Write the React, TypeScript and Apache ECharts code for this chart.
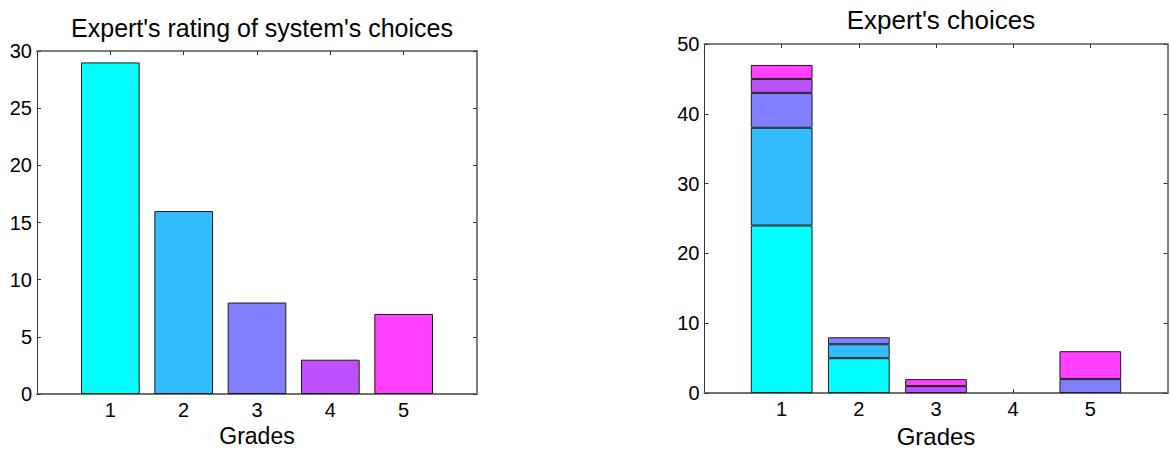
import React, { useEffect, useRef } from "react";
import * as echarts from "echarts";

const grades = [1, 2, 3, 4, 5];
const axisSlots = ["0", "1", "2", "3", "4", "5", "6"];
const ratingCounts = [29, 16, 8, 3, 7];
const gradeColors = ["#00FFFF", "#33BBFF", "#8080FF", "#BF50FF", "#FF40FF"];

// Expert's choices, stacked by system grade (bottom to top)
const choiceSeg1 = [24, 5, 0, 0, 0];
const choiceSeg2 = [14, 2, 0, 0, 0];
const choiceSeg3 = [5, 1, 0, 0, 2];
const choiceSeg4 = [2, 0, 1, 0, 0];
const choiceSeg5 = [2, 0, 1, 0, 4];
const choiceSegments = [choiceSeg1, choiceSeg2, choiceSeg3, choiceSeg4, choiceSeg5];

const leftTitle = "Expert's rating of system's choices";
const rightTitle = "Expert's choices";
const xName = "Grades";

const FONT = "'Liberation Sans', Arial, Helvetica, sans-serif";

const isGradeSlot = (idx: number) => grades.includes(Number(axisSlots[idx]));

export default function App() {
  const ref = useRef<HTMLDivElement>(null);

  useEffect(() => {
    if (!ref.current) return;
    const chart = echarts.init(ref.current, undefined, { renderer: "svg" });

    const g1 = { left: 37, top: 51, width: 440, height: 343 };
    const g2 = { left: 704.5, top: 44, width: 463, height: 357 };

    const frameColor = "#808080";
    const tickStyle = { show: true, inside: true, length: 4, lineStyle: { color: "#333", width: 1 } };

    const xBottom = (gi: number, gap: number, nameSize: number) => ({
      type: "category",
      gridIndex: gi,
      data: axisSlots,
      boundaryGap: false,
      position: "bottom",
      axisLine: { show: true, onZero: false, lineStyle: { color: "#707070", width: 2 } },
      axisTick: { ...tickStyle, interval: (idx: number) => isGradeSlot(idx) },
      axisLabel: {
        show: true,
        interval: (idx: number) => isGradeSlot(idx),
        color: "#000",
        fontSize: 20,
        fontFamily: FONT,
        margin: 6,
      },
      splitLine: { show: false },
      name: xName,
      nameLocation: "middle",
      nameGap: gap,
      nameTextStyle: { color: "#000", fontSize: nameSize, fontFamily: FONT },
    });
    const xTop = (gi: number) => ({
      type: "category",
      gridIndex: gi,
      data: axisSlots,
      boundaryGap: false,
      position: "top",
      axisLine: { show: true, onZero: false, lineStyle: { color: frameColor, width: 2 } },
      axisTick: { ...tickStyle, interval: (idx: number) => isGradeSlot(idx) },
      axisLabel: { show: false },
      splitLine: { show: false },
    });
    const yLeft = (gi: number, max: number, interval: number) => ({
      type: "value",
      gridIndex: gi,
      min: 0,
      max,
      interval,
      position: "left",
      axisLine: { show: true, onZero: false, lineStyle: { color: "#333", width: 1 } },
      axisTick: tickStyle,
      axisLabel: { show: true, color: "#000", fontSize: 20, fontFamily: FONT, margin: 5 },
      splitLine: { show: false },
    });
    const yRight = (gi: number, max: number, interval: number) => ({
      type: "value",
      gridIndex: gi,
      min: 0,
      max,
      interval,
      position: "right",
      axisLine: { show: true, onZero: false, lineStyle: { color: frameColor, width: 2 } },
      axisTick: tickStyle,
      axisLabel: { show: false },
      splitLine: { show: false },
    });

    const barBorder = { borderColor: "#1a1a1a", borderWidth: 1 };

    const slotData = (values: number[]) =>
      axisSlots.map((s) => {
        const gi = grades.indexOf(Number(s));
        if (gi < 0 || values[gi] === 0) return "-";
        return values[gi];
      });

    const option: any = {
      animation: false,
      backgroundColor: "#fff",
      title: [
        {
          text: leftTitle,
          left: g1.left + g1.width / 2,
          top: 10,
          textAlign: "center",
          textStyle: { color: "#000", fontSize: 25, fontWeight: "normal", fontFamily: FONT },
        },
        {
          text: rightTitle,
          left: g2.left + g2.width / 2,
          top: 2,
          textAlign: "center",
          textStyle: { color: "#000", fontSize: 26, fontWeight: "normal", fontFamily: FONT },
        },
      ],
      grid: [
        { ...g1, containLabel: false },
        { ...g2, containLabel: false },
      ],
      xAxis: [xBottom(0, 26, 23), xTop(0), xBottom(1, 27, 24), xTop(1)],
      yAxis: [yLeft(0, 30, 5), yRight(0, 30, 5), yLeft(1, 50, 10), yRight(1, 50, 10)],
      series: [
        {
          type: "bar",
          xAxisIndex: 0,
          yAxisIndex: 0,
          barWidth: (g1.width / 6) * 0.8,
          itemStyle: barBorder,
          data: axisSlots.map((s) => {
            const gi = grades.indexOf(Number(s));
            if (gi < 0) return "-";
            return { value: ratingCounts[gi], itemStyle: { color: gradeColors[gi], ...barBorder } };
          }),
        },
        ...choiceSegments.map((seg, si) => ({
          type: "bar",
          xAxisIndex: 2,
          yAxisIndex: 2,
          stack: "choices",
          barWidth: (g2.width / 6) * 0.8,
          itemStyle: { color: gradeColors[si], ...barBorder },
          data: slotData(seg),
        })),
      ],
    };

    chart.setOption(option);
    return () => chart.dispose();
  }, []);

  return (
    <div
      ref={ref}
      style={{ position: "fixed", left: 0, top: 0, width: 1171, height: 453, background: "#fff" }}
    />
  );
}
